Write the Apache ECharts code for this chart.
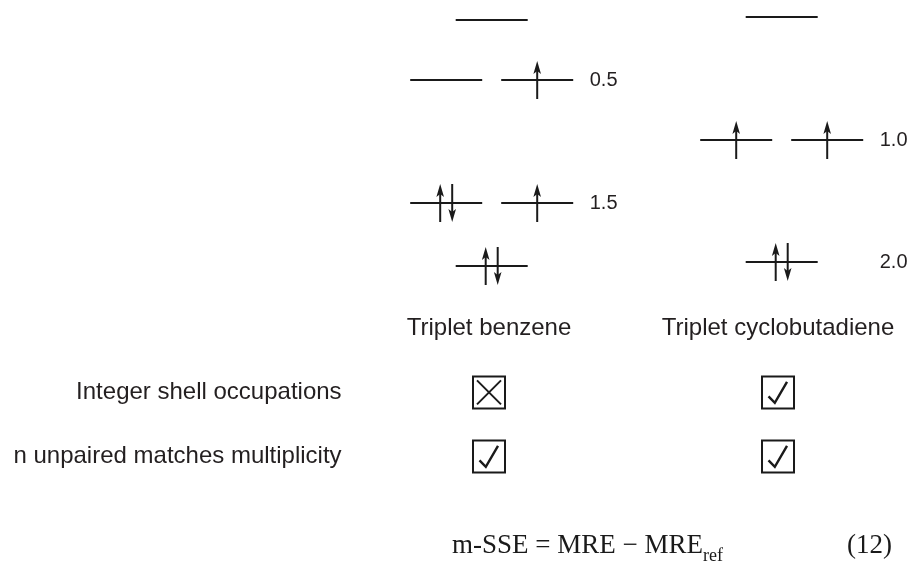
<!DOCTYPE html>
<html>
<head>
<meta charset="utf-8">
<script src="https://cdn.jsdelivr.net/npm/echarts@6/dist/echarts.min.js"></script>
<style>
html, body { margin: 0; padding: 0; background: #fff; }
#chart { width: 910px; height: 566px; }
</style>
</head>
<body>
<div id="chart"></div>
<script>
// columns
const molecules = ['Triplet benzene', 'Triplet cyclobutadiene']

// orbital levels top to bottom, energy in arbitrary units
// occupation of each degenerate orbital: '' empty, 'u' spin up, 'ud' paired
const benzeneEnergy = [2.63, 2.03, 0.80, 0.17]
const benzeneOcc = [[''], ['', 'u'], ['ud', 'u'], ['ud']]
const benzeneShell = ['', '0.5', '1.5', '']

const cbdEnergy = [2.66, 1.43, 0.21]
const cbdOcc = [[''], ['u', 'u'], ['ud']]
const cbdShell = ['', '1.0', '2.0']

// criteria table
const criteria = ['Integer shell occupations', 'n unpaired matches multiplicity']
const benzenePass = [false, true]
const cbdPass = [true, true]

const equation = 'm-SSE = MRE − MRE'
const equationSub = 'ref'
const equationNo = '(12)'

const INK = '#1a1a1a'
const TEXT = '#231f20'
const SANS = '"Liberation Sans", Arial, Helvetica, sans-serif'
const SERIF = '"Liberation Serif", "Times New Roman", serif'

// flatten levels
const levels = []
;[[benzeneEnergy, benzeneOcc, benzeneShell], [cbdEnergy, cbdOcc, cbdShell]].forEach((m, i) => {
  m[0].forEach((e, k) => {
    levels.push({ col: i + 1, energy: e, occ: m[1][k], shell: m[2][k] })
  })
})

const cells = []
;[benzenePass, cbdPass].forEach((p, i) => {
  p.forEach((ok, r) => cells.push({ col: i + 1, row: r + 1, ok: ok }))
})

function arrow (x, y, dir) {
  // dir 1 = up, -1 = down
  const tip = y - 19 * dir
  const tail = y + 19 * dir
  return [
    { type: 'line', shape: { x1: x, y1: tail, x2: x, y2: tip + 9 * dir }, style: { stroke: INK, lineWidth: 2 } },
    {
      type: 'polygon',
      shape: { points: [[x, tip], [x - 3.8, tip + 13 * dir], [x, tip + 10 * dir], [x + 3.8, tip + 13 * dir]] },
      style: { fill: INK }
    }
  ]
}

function renderLevel (params, api) {
  const lv = levels[params.dataIndex]
  const c = api.coord([lv.col, lv.energy])
  const children = []
  const n = lv.occ.length
  lv.occ.forEach((o, k) => {
    const cx = c[0] + (n === 1 ? 0 : (k === 0 ? -45.5 : 45.5))
    children.push({ type: 'line', shape: { x1: cx - 36, y1: c[1], x2: cx + 36, y2: c[1] }, style: { stroke: INK, lineWidth: 2 } })
    if (o === 'u') children.push(...arrow(cx, c[1], 1))
    if (o === 'ud') {
      children.push(...arrow(cx - 6, c[1], 1))
      children.push(...arrow(cx + 6, c[1], -1))
    }
  })
  if (lv.shell) {
    children.push({
      type: 'text',
      x: c[0] + 98,
      y: c[1],
      style: { text: lv.shell, fill: TEXT, font: '20px ' + SANS, align: 'left', verticalAlign: 'middle' }
    })
  }
  return { type: 'group', children: children }
}

function renderCell (params, api) {
  const cell = cells[params.dataIndex]
  const c = api.coord([cell.col, cell.row])
  const x = c[0]
  const y = c[1]
  const children = [
    { type: 'rect', shape: { x: x - 16, y: y - 16, width: 32, height: 32 }, style: { fill: 'none', stroke: INK, lineWidth: 2 } }
  ]
  if (cell.ok) {
    children.push({
      type: 'polyline',
      shape: { points: [[x - 9.5, y + 4], [x - 3.2, y + 10.5], [x + 9, y - 10.5]] },
      style: { stroke: INK, lineWidth: 2.4, fill: 'none', lineJoin: 'miter' }
    })
  } else {
    children.push({ type: 'line', shape: { x1: x - 12, y1: y - 12, x2: x + 12, y2: y + 12 }, style: { stroke: INK, lineWidth: 2 } })
    children.push({ type: 'line', shape: { x1: x + 12, y1: y - 12, x2: x - 12, y2: y + 12 }, style: { stroke: INK, lineWidth: 2 } })
  }
  return { type: 'group', children: children }
}

function renderText (params, api) {
  const t = texts[params.dataIndex]
  const c = api.coord([t.col, t.row])
  return {
    type: 'text',
    x: c[0],
    y: c[1],
    style: { text: t.text, fill: TEXT, font: '24px ' + SANS, align: t.align, verticalAlign: 'middle' }
  }
}

const texts = []
molecules.forEach((m, i) => texts.push({ col: i + 1, row: 0, text: m, align: 'center' }))
criteria.forEach((c, r) => texts.push({ col: 0.49, row: r + 1, text: c, align: 'right' }))

const chart = echarts.init(document.getElementById('chart'))
const option = {
  animation: false,
  backgroundColor: '#fff',
  title: [
    {
      text: '{m|' + equation + '}{s|' + equationSub + '}',
      left: 452,
      top: 527,
      padding: 0,
      textStyle: {
        fontWeight: 'normal',
        rich: {
          m: { fontFamily: SERIF, fontSize: 27, fontWeight: 'normal', color: INK, lineHeight: 38, verticalAlign: 'middle' },
          s: { fontFamily: SERIF, fontSize: 18, fontWeight: 'normal', color: INK, lineHeight: 38, verticalAlign: 'bottom' }
        }
      }
    },
    {
      text: '{m|' + equationNo + '}',
      left: 847,
      top: 527,
      padding: 0,
      textStyle: {
        fontWeight: 'normal',
        rich: {
          m: { fontFamily: SERIF, fontSize: 27, fontWeight: 'normal', color: INK, lineHeight: 38, verticalAlign: 'middle' }
        }
      }
    }
  ],
  grid: [
    { left: 0, top: 0, width: 910, height: 290 },
    { left: 0, top: 290, width: 910, height: 276 }
  ],
  xAxis: [
    { type: 'value', gridIndex: 0, min: -0.6955, max: 2.4424, show: false },
    { type: 'value', gridIndex: 1, min: -0.692, max: 2.4567, show: false }
  ],
  yAxis: [
    { type: 'value', gridIndex: 0, min: -0.07, max: 2.83, show: false },
    { type: 'value', gridIndex: 1, min: -0.6, max: 3.7125, inverse: true, show: false }
  ],
  series: [
    {
      type: 'custom',
      name: 'levels',
      xAxisIndex: 0,
      yAxisIndex: 0,
      data: levels.map(l => [l.col, l.energy]),
      renderItem: renderLevel
    },
    {
      type: 'custom',
      name: 'checks',
      xAxisIndex: 1,
      yAxisIndex: 1,
      data: cells.map(c => [c.col, c.row]),
      renderItem: renderCell
    },
    {
      type: 'custom',
      name: 'labels',
      xAxisIndex: 1,
      yAxisIndex: 1,
      data: texts.map(t => [t.col, t.row]),
      renderItem: renderText
    }
  ]
}
chart.setOption(option)
</script>
</body>
</html>
